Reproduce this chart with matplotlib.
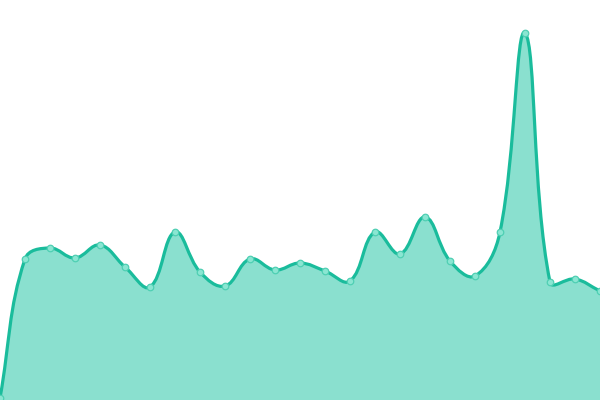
import matplotlib
matplotlib.use("Agg")
import matplotlib.pyplot as plt
import numpy as np
from matplotlib.path import Path
from matplotlib.patches import PathPatch

# x positions (one point every 25 px) and values
x_vals = [0, 25, 50, 75, 100, 125, 150, 175, 200, 225, 250, 275, 300,
          325, 350, 375, 400, 425, 450, 475, 500, 525, 550, 575, 600]
y_vals = [2, 141, 152, 142, 155, 133, 113, 168, 128, 114, 141, 130, 137,
          129, 119, 168, 146, 183, 139, 124, 168, 367, 118, 121, 109]

LINE = "#1abc9c"
FILL = "#8ae0cf"
TENSION = 0.4


def spline_controls(px, py, t):
    # bezier control points in the style of Chart.js splineCurve
    n = len(px)
    c1 = []
    c2 = []
    for i in range(n):
        p0 = np.array([px[max(i - 1, 0)], py[max(i - 1, 0)]], float)
        p1 = np.array([px[i], py[i]], float)
        p2 = np.array([px[min(i + 1, n - 1)], py[min(i + 1, n - 1)]], float)
        d01 = np.hypot(*(p1 - p0))
        d12 = np.hypot(*(p2 - p1))
        tot = d01 + d12
        s01 = d01 / tot if tot else 0
        s12 = d12 / tot if tot else 0
        fa = t * s01
        fb = t * s12
        prev_c = p1 - fa * (p2 - p0)
        next_c = p1 + fb * (p2 - p0)
        prev_c = np.clip(prev_c, [0, 0], [600, 400])
        next_c = np.clip(next_c, [0, 0], [600, 400])
        c1.append(prev_c)
        c2.append(next_c)
    return c1, c2


def build_path(px, py, t, close=False):
    c1, c2 = spline_controls(px, py, t)
    verts = [(px[0], py[0])]
    codes = [Path.MOVETO]
    for i in range(1, len(px)):
        verts += [tuple(c2[i - 1]), tuple(c1[i]), (px[i], py[i])]
        codes += [Path.CURVE4] * 3
    if close:
        verts += [(px[-1], 0), (px[0], 0), (px[0], py[0])]
        codes += [Path.LINETO, Path.LINETO, Path.CLOSEPOLY]
    return Path(verts, codes)


fig = plt.figure(figsize=(6, 4), dpi=100)
ax = fig.add_axes([0, 0, 1, 1])
ax.set_xlim(0, 600)
ax.set_ylim(0, 400)
ax.axis("off")

ax.add_patch(PathPatch(build_path(x_vals, y_vals, TENSION, close=True),
                       facecolor=FILL, edgecolor="none"))
ax.add_patch(PathPatch(build_path(x_vals, y_vals, TENSION),
                       facecolor="none", edgecolor=LINE, linewidth=2.3,
                       capstyle="round", joinstyle="round"))
ax.scatter(x_vals, y_vals, s=22, color="#8ae6d2", edgecolors="#4fcfb3",
           linewidths=0.9, zorder=3, clip_on=False)

fig.savefig("out.png", dpi=100)
